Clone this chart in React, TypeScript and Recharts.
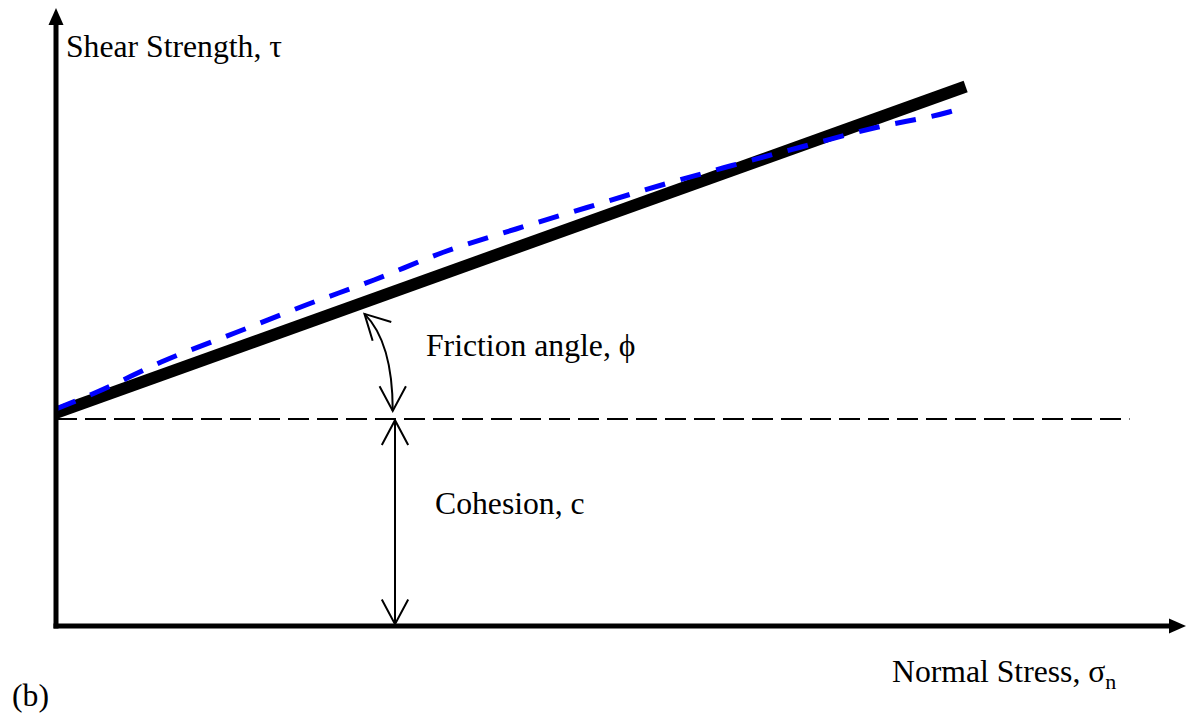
import { ComposedChart, Line, ReferenceLine, XAxis, YAxis } from "recharts";

// normal stress / shear strength in relative units (0-100)
const linearStress = [0, 80.5];
const linearStrength = [34.5, 87.3];

const curveStress = [0, 3.63, 9.73, 15.93, 22.12, 28.14, 34.34, 40.71, 46.99, 53.45, 59.82, 66.11, 72.57, 79.03, 80.09];
const curveStrength = [35.11, 37.86, 43.04, 47.49, 51.94, 55.99, 60.52, 64.24, 67.72, 71.28, 74.51, 77.59, 80.66, 83.17, 83.74];

const cohesion = 33.5;
const cohesionLineEnd = 95;
const cohesionArrowX = 30;
const frictionArrowFrom = { x: 27.3, y: 50.5 };
const frictionArrowTo = { x: 29.8, y: 34.8 };

const FONT = "'Liberation Serif', 'Times New Roman', serif";

const linearData = linearStress.map((x, i) => ({ x, y: linearStrength[i] }));
const curveData = curveStress.map((x, i) => ({ x, y: curveStrength[i] }));

const openHead = (tx: number, ty: number, dx: number, dy: number, len = 28, spread = 0.49) => {
    const a = Math.atan2(dy, dx);
    const ax = tx - len * Math.cos(a - spread);
    const ay = ty - len * Math.sin(a - spread);
    const bx = tx - len * Math.cos(a + spread);
    const by = ty - len * Math.sin(a + spread);
    return `M${ax},${ay} L${tx},${ty} L${bx},${by}`;
};

const AxisArrow = (props: any) => {
    const { x1, y1, x2, y2 } = props;
    const dx = x2 - x1;
    const dy = y2 - y1;
    const len = Math.hypot(dx, dy) || 1;
    const ux = dx / len;
    const uy = dy / len;
    const head = 17;
    const half = 7.5;
    const bx = x2 - ux * head;
    const by = y2 - uy * head;
    return (
        <g>
            <line x1={x1 - ux * 2.5} y1={y1 - uy * 2.5} x2={bx + ux} y2={by + uy} stroke="#000" strokeWidth={5} />
            <polygon
                points={`${x2},${y2} ${bx - uy * half},${by + ux * half} ${bx + uy * half},${by - ux * half}`}
                fill="#000"
            />
        </g>
    );
};

const DoubleArrow = (props: any) => {
    const { x1, y1, x2, y2 } = props;
    return (
        <g fill="none" stroke="#000" strokeWidth={2}>
            <line x1={x1} y1={y1} x2={x2} y2={y2} />
            <path d={openHead(x1, y1, x1 - x2, y1 - y2)} />
            <path d={openHead(x2, y2, x2 - x1, y2 - y1)} />
        </g>
    );
};

const CurvedArrow = (props: any) => {
    const { x1, y1, x2, y2 } = props;
    const cx = x2;
    const cy = y1 + (x2 - x1);
    return (
        <g fill="none" stroke="#000" strokeWidth={2}>
            <path d={`M${x1},${y1} Q${cx},${cy} ${x2},${y2}`} />
            <path d={openHead(x1, y1, x1 - cx, y1 - cy)} />
            <path d={openHead(x2, y2, x2 - cx, y2 - cy)} />
        </g>
    );
};

export default function App() {
    return (
        <div style={{ position: "absolute", left: 0, top: 0, width: 1188, height: 719, background: "#fff" }}>
            <ComposedChart width={1188} height={719} margin={{ top: 8, right: 2, bottom: 93, left: 56 }}>
                <XAxis type="number" dataKey="x" domain={[0, 100]} allowDataOverflow hide />
                <YAxis type="number" domain={[0, 100]} allowDataOverflow hide />

                <ReferenceLine
                    segment={[{ x: 0, y: cohesion }, { x: cohesionLineEnd, y: cohesion }]}
                    stroke="#000"
                    strokeWidth={2}
                    strokeDasharray="21 8"
                    ifOverflow="visible"
                />
                <ReferenceLine
                    segment={[{ x: cohesionArrowX, y: 0.3 }, { x: cohesionArrowX, y: cohesion - 0.2 }]}
                    shape={<DoubleArrow />}
                    ifOverflow="visible"
                />
                <ReferenceLine
                    segment={[frictionArrowFrom, frictionArrowTo]}
                    shape={<CurvedArrow />}
                    ifOverflow="visible"
                />

                <Line
                    data={linearData}
                    dataKey="y"
                    type="linear"
                    stroke="#000"
                    strokeWidth={12}
                    strokeLinecap="butt"
                    dot={false}
                    activeDot={false}
                    isAnimationActive={false}
                />
                <Line
                    data={curveData}
                    dataKey="y"
                    type="monotone"
                    stroke="#0000ff"
                    strokeWidth={5}
                    strokeDasharray="21 16"
                    strokeLinecap="butt"
                    dot={false}
                    activeDot={false}
                    isAnimationActive={false}
                />

                <ReferenceLine segment={[{ x: 0, y: 0 }, { x: 100, y: 0 }]} shape={<AxisArrow />} ifOverflow="visible" />
                <ReferenceLine segment={[{ x: 0, y: 0 }, { x: 0, y: 100 }]} shape={<AxisArrow />} ifOverflow="visible" />
            </ComposedChart>

            <svg
                width={1188}
                height={719}
                style={{ position: "absolute", left: 0, top: 0, pointerEvents: "none" }}
                fontFamily={FONT}
                fontSize={31.7}
                fill="#000"
            >
                <text x={66} y={57}>Shear Strength, τ</text>
                <text x={426} y={356}>Friction angle, ϕ</text>
                <text x={435} y={514}>Cohesion, c</text>
                <text x={892} y={682}>
                    Normal Stress, σ<tspan fontSize={22} dy={7}>n</tspan>
                </text>
                <text x={12} y={706}>(b)</text>
            </svg>
        </div>
    );
}
